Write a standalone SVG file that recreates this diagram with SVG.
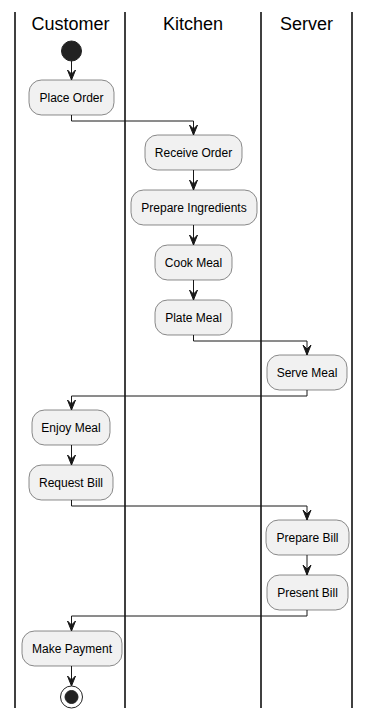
<svg xmlns="http://www.w3.org/2000/svg" width="370" height="719" viewBox="0 0 370 719">
  <style>
    .lane { stroke: #000000; stroke-width: 1.5; fill: none; }
    .title { font-family: "Liberation Sans", Arial, sans-serif; font-size: 18px; fill: #000000; text-anchor: middle; }
    .act rect { fill: #F1F1F1; stroke: #181818; stroke-width: 0.5; }
    .act text { font-family: "Liberation Sans", Arial, sans-serif; font-size: 12px; fill: #000000; text-anchor: middle; }
    .edge { stroke: #181818; stroke-width: 1; fill: none; }
    .head { fill: #181818; stroke: #181818; stroke-width: 1; }
  </style>
  <defs>
    <!-- open arrowhead, tip at the origin pointing down -->
    <polygon id="ah" class="head" points="-4,-10 0,0 4,-10 0,-6"/>
  </defs>
  <rect width="370" height="719" fill="#FFFFFF"/>

  <!-- swimlanes -->
  <g id="lanes">
    <line class="lane" x1="15" y1="12" x2="15" y2="708"/>
    <line class="lane" x1="125" y1="12" x2="125" y2="708"/>
    <line class="lane" x1="261" y1="12" x2="261" y2="708"/>
    <line class="lane" x1="352" y1="12" x2="352" y2="708"/>
    <text class="title" x="70.5" y="30">Customer</text>
    <text class="title" x="193" y="30">Kitchen</text>
    <text class="title" x="306.5" y="30">Server</text>
  </g>

  <!-- connectors -->
  <g id="connectors">
    <path class="edge" d="M71.5,61 V80"/><use href="#ah" x="71.5" y="80"/>
    <path class="edge" d="M71.5,115 V121 H193.5 V135"/><use href="#ah" x="193.5" y="135"/>
    <path class="edge" d="M193.5,170 V190"/><use href="#ah" x="193.5" y="190"/>
    <path class="edge" d="M193.5,225 V245"/><use href="#ah" x="193.5" y="245"/>
    <path class="edge" d="M193.5,280 V300"/><use href="#ah" x="193.5" y="300"/>
    <path class="edge" d="M193.5,335 V341 H307 V355"/><use href="#ah" x="307" y="355"/>
    <path class="edge" d="M307,390 V396 H71.5 V410"/><use href="#ah" x="71.5" y="410"/>
    <path class="edge" d="M71.5,445 V465"/><use href="#ah" x="71.5" y="465"/>
    <path class="edge" d="M71.5,500 V506 H307 V520"/><use href="#ah" x="307" y="520"/>
    <path class="edge" d="M307,555 V575"/><use href="#ah" x="307" y="575"/>
    <path class="edge" d="M307,610 V616 H71.5 V631"/><use href="#ah" x="71.5" y="631"/>
    <path class="edge" d="M71.5,666 V686"/><use href="#ah" x="71.5" y="686"/>
  </g>

  <!-- start / end -->
  <g id="start">
    <circle cx="71.5" cy="51" r="10" fill="#222222" stroke="#222222" stroke-width="1"/>
  </g>
  <g id="end">
    <circle cx="71.5" cy="697" r="11" fill="none" stroke="#222222" stroke-width="1"/>
    <circle cx="71.5" cy="697" r="6.5" fill="#222222" stroke="#222222" stroke-width="1"/>
  </g>

  <!-- activities -->
  <g id="place-order" class="act">
    <rect x="29" y="80" width="85" height="35" rx="12.5"/>
    <text x="71.5" y="101.5">Place Order</text>
  </g>
  <g id="receive-order" class="act">
    <rect x="145" y="135" width="97" height="35" rx="12.5"/>
    <text x="193.5" y="156.5">Receive Order</text>
  </g>
  <g id="prepare-ingredients" class="act">
    <rect x="131" y="190" width="126" height="35" rx="12.5"/>
    <text x="194" y="211.5">Prepare Ingredients</text>
  </g>
  <g id="cook-meal" class="act">
    <rect x="155" y="245" width="77" height="35" rx="12.5"/>
    <text x="193.5" y="266.5">Cook Meal</text>
  </g>
  <g id="plate-meal" class="act">
    <rect x="155" y="300" width="77" height="35" rx="12.5"/>
    <text x="193.5" y="321.5">Plate Meal</text>
  </g>
  <g id="serve-meal" class="act">
    <rect x="267" y="355" width="80" height="35" rx="12.5"/>
    <text x="307" y="376.5">Serve Meal</text>
  </g>
  <g id="enjoy-meal" class="act">
    <rect x="32" y="410" width="78" height="35" rx="12.5"/>
    <text x="71" y="431.5">Enjoy Meal</text>
  </g>
  <g id="request-bill" class="act">
    <rect x="29" y="465" width="84" height="35" rx="12.5"/>
    <text x="71" y="486.5">Request Bill</text>
  </g>
  <g id="prepare-bill" class="act">
    <rect x="266" y="520" width="83" height="35" rx="12.5"/>
    <text x="307.5" y="541.5">Prepare Bill</text>
  </g>
  <g id="present-bill" class="act">
    <rect x="267" y="575" width="81" height="35" rx="12.5"/>
    <text x="307.5" y="596.5">Present Bill</text>
  </g>
  <g id="make-payment" class="act">
    <rect x="22" y="631" width="100" height="35" rx="12.5"/>
    <text x="72" y="652.5">Make Payment</text>
  </g>
</svg>
